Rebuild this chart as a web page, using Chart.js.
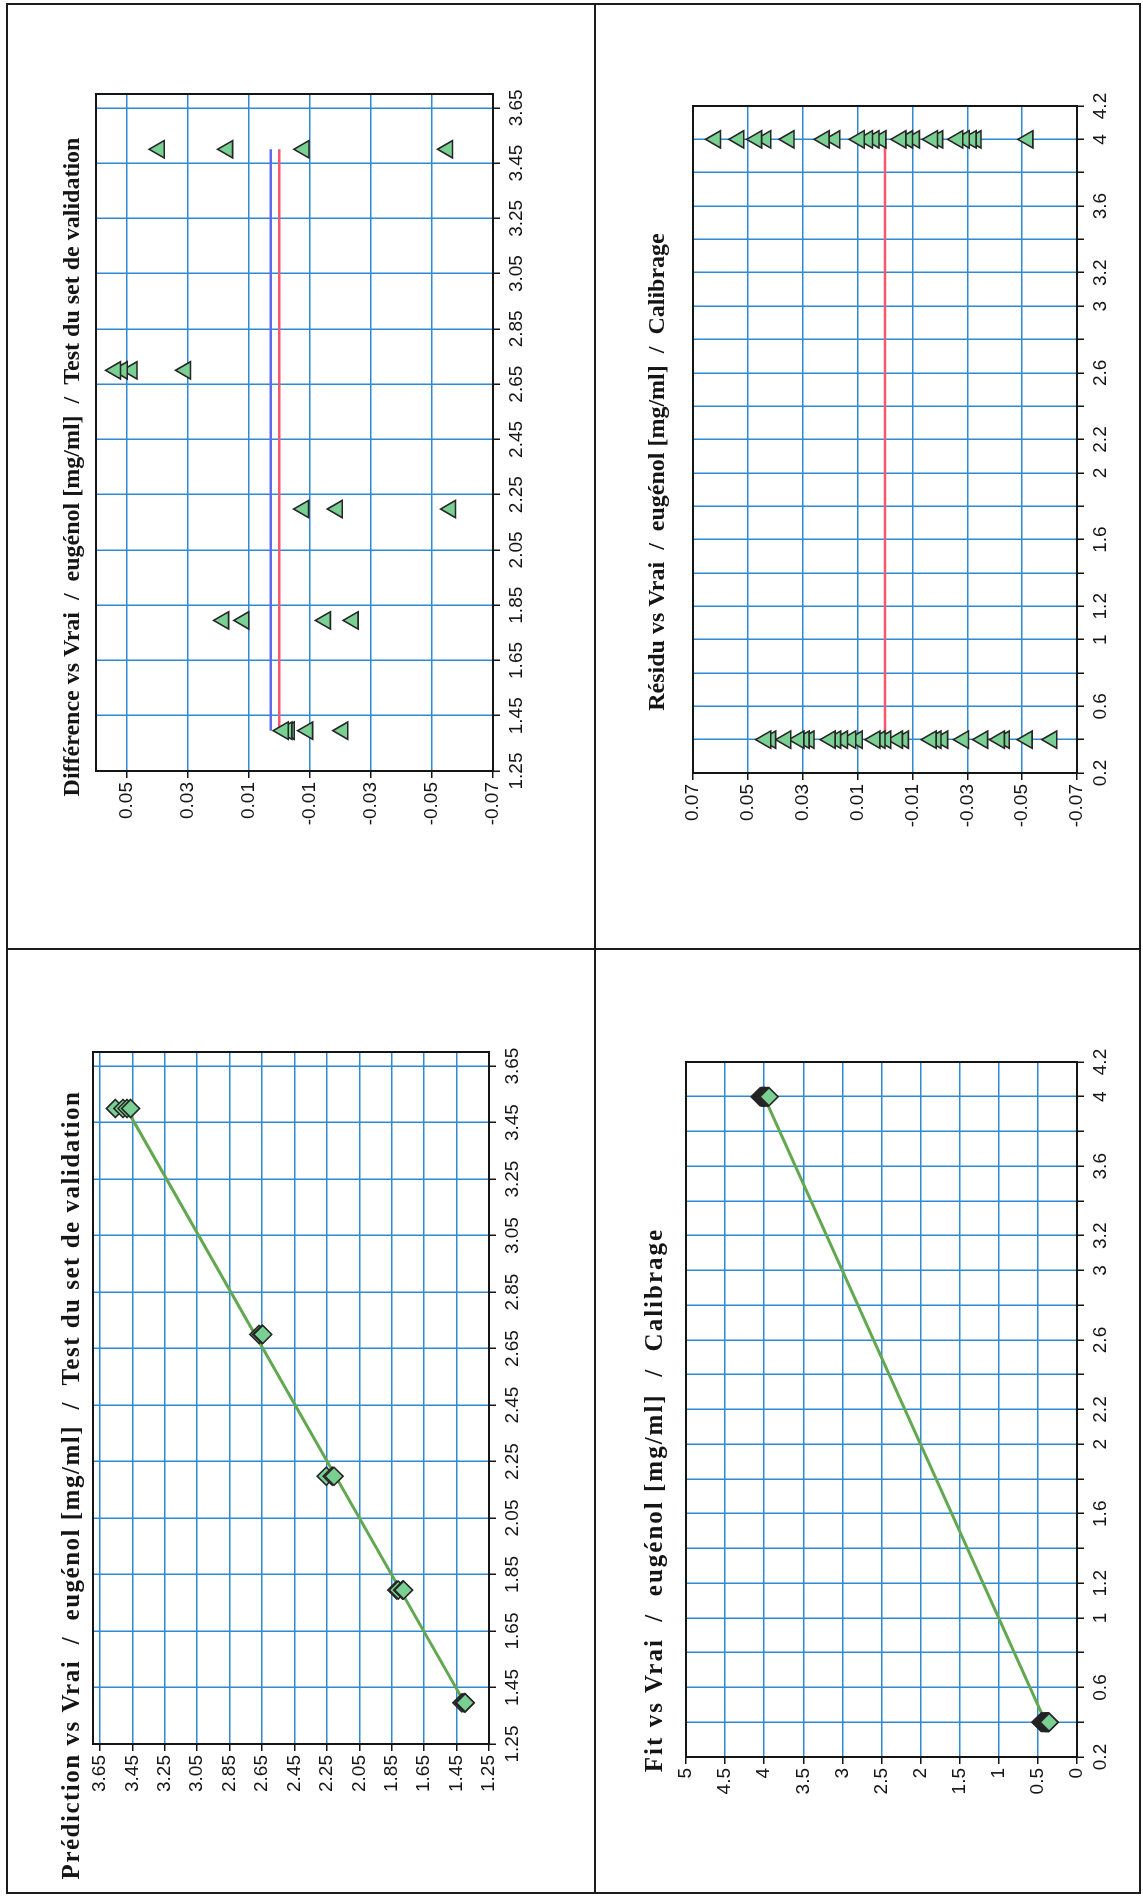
<!DOCTYPE html>
<html>
<head>
<meta charset="utf-8">
<script src="https://cdn.jsdelivr.net/npm/chart.js@4.4.1/dist/chart.umd.min.js"></script>
<style>
  html, body { margin: 0; padding: 0; background: #fff; }
  body { width: 1143px; height: 1896px; position: relative; overflow: hidden; }
  canvas.panel { position: absolute; left: 0; top: 0; transform-origin: 0 0; }
  .rule { position: absolute; background: #1c1c1c; z-index: 2; }
</style>
</head>
<body>
<div class="rule" style="left:6px;top:3px;width:1135px;height:2px"></div>
<div class="rule" style="left:6px;top:1892px;width:1135px;height:2px"></div>
<div class="rule" style="left:6px;top:3px;width:2px;height:1891px"></div>
<div class="rule" style="left:1139px;top:3px;width:2px;height:1891px"></div>
<div class="rule" style="left:594px;top:3px;width:2px;height:1891px"></div>
<div class="rule" style="left:6px;top:948px;width:1135px;height:2px"></div>

<canvas id="cDiff" class="panel"></canvas>
<canvas id="cResid" class="panel"></canvas>
<canvas id="cPred" class="panel"></canvas>
<canvas id="cFit" class="panel"></canvas>

<script>
// ---------- Test du set de validation ----------
// reference (Vrai) values of the validation samples
const valTrue = [3.5, 3.5, 3.5, 3.5,
                 2.70, 2.70, 2.70, 2.70,
                 2.198, 2.198, 2.198,
                 1.795, 1.795, 1.795, 1.795,
                 1.396, 1.396, 1.396, 1.396, 1.396];
// Différence (Vrai - Prédiction)
const valDiff = [-0.0551, -0.0081, 0.0169, 0.0393,
                 0.0307, 0.0482, 0.0514, 0.0536,
                 -0.0561, -0.0190, -0.0080,
                 -0.0242, -0.0151, 0.0116, 0.0182,
                 -0.0208, -0.0093, -0.0033, -0.0025, -0.0013];
// Prédiction
const valPred = [3.555, 3.508, 3.483, 3.461,
                 2.669, 2.652, 2.649, 2.646,
                 2.254, 2.217, 2.206,
                 1.819, 1.810, 1.783, 1.777,
                 1.417, 1.405, 1.399, 1.399, 1.397];
// ends of the reference lines
const valLineX = [1.396, 3.5];
const diffBiasLine = [0.0028, 0.0028];
const diffZeroLine = [0, 0];
const predFitLine = [1.401, 3.487];

// ---------- Calibrage ----------
const calLow = 0.4;
const calHigh = 4.0;
const calResidLow = [-0.0608, -0.0518, -0.0435, -0.0417, -0.0356, -0.0286, -0.0210,
                     -0.0186, -0.0168, -0.0067, -0.0045, -0.0003, 0.0018, 0.0037,
                     0.0101, 0.0125, 0.0155, 0.0180, 0.0200, 0.0277, 0.0295, 0.0314,
                     0.0362, 0.0417, 0.0435];
const calResidHigh = [-0.0521, -0.0332, -0.0314, -0.0289, -0.0265, -0.0192, -0.0173,
                      -0.0107, -0.0082, -0.0058, 0.0015, 0.0040, 0.0064, 0.0094,
                      0.0183, 0.0222, 0.0350, 0.0435, 0.0468, 0.0533, 0.0618];
const calFitLow = [0.461, 0.452, 0.444, 0.442, 0.436, 0.429, 0.421, 0.419, 0.417,
                   0.407, 0.405, 0.400, 0.398, 0.396, 0.390, 0.388, 0.385, 0.382,
                   0.380, 0.372, 0.371, 0.369, 0.364, 0.358, 0.357];
const calFitHigh = [4.052, 4.033, 4.031, 4.029, 4.027, 4.019, 4.017, 4.011, 4.008,
                    4.006, 3.999, 3.996, 3.994, 3.991, 3.982, 3.978, 3.965, 3.957,
                    3.953, 3.947, 3.938];
const calLineX = [0.4, 4.0];
const calFitLine = [0.4, 4.0];
const calZeroLine = [0, 0];

// ---------- axis ticks ----------
const ticksVal = [1.25, 1.45, 1.65, 1.85, 2.05, 2.25, 2.45, 2.65, 2.85, 3.05, 3.25, 3.45, 3.65];
const ticksDiff = [-0.07, -0.05, -0.03, -0.01, 0.01, 0.03, 0.05];
const ticksResid = [-0.07, -0.05, -0.03, -0.01, 0.01, 0.03, 0.05, 0.07];
const ticksCal = [0.2, 0.4, 0.6, 0.8, 1.0, 1.2, 1.4, 1.6, 1.8, 2.0, 2.2, 2.4, 2.6, 2.8,
                  3.0, 3.2, 3.4, 3.6, 3.8, 4.0, 4.2];
const ticksCalShown = [0.2, 0.6, 1, 1.2, 1.6, 2, 2.2, 2.6, 3, 3.2, 3.6, 4, 4.2];
const ticksFit = [0, 0.5, 1, 1.5, 2, 2.5, 3, 3.5, 4, 4.5, 5];

// ---------- styles ----------
const GRID = 'rgb(46,138,212)';
const INK = '#151515';
const MARK_FILL = 'rgb(122,208,146)';
const MARK_EDGE = '#262626';
const RED = 'rgb(246,88,108)';
const BLUE = 'rgb(92,108,236)';
const GREEN = 'rgb(98,168,80)';
const TICK_FONT = { family: '"Liberation Sans", Arial, sans-serif', size: 19 };
const SERIF = '"Liberation Serif", "Times New Roman", serif';

const fix2 = v => v.toFixed(2);
const plain = v => String(v);
const calLabel = v => ticksCalShown.some(t => Math.abs(t - v) < 1e-9) ? String(v) : '';

// black frame around the plotting area
const plotFrame = {
  id: 'plotFrame',
  beforeDatasetsDraw(chart) {
    const a = chart.chartArea, ctx = chart.ctx;
    ctx.save();
    ctx.strokeStyle = INK;
    ctx.lineWidth = 2;
    ctx.strokeRect(a.left, a.top, a.right - a.left, a.bottom - a.top);
    ctx.restore();
  }
};

// chart heading
const panelTitle = {
  id: 'panelTitle',
  afterDraw(chart, args, opts) {
    const ctx = chart.ctx;
    ctx.save();
    ctx.font = opts.font;
    if ('letterSpacing' in ctx) ctx.letterSpacing = opts.spacing || '0px';
    ctx.fillStyle = INK;
    ctx.textAlign = 'center';
    ctx.textBaseline = 'middle';
    ctx.fillText(opts.text, opts.u, opts.v);
    ctx.restore();
  }
};

// The canvas is laid out in the chart's own orientation and turned a quarter
// turn counter-clockwise on the page.
function placePanel(id, box, plot) {
  const W = box.h, H = box.w;
  const cv = document.getElementById(id);
  cv.width = W; cv.height = H;
  cv.style.width = W + 'px'; cv.style.height = H + 'px';
  cv.style.transform = `translate(${box.x}px, ${box.y + W}px) rotate(-90deg)`;
  return {
    W, H,
    left: W - (plot.y1 - box.y),
    right: W - (plot.y0 - box.y),
    top: plot.x0 - box.x,
    bottom: plot.x1 - box.x
  };
}

function axis(a, dir, g) {
  return {
    type: 'linear',
    min: a.min, max: a.max, bounds: 'data',
    afterBuildTicks: s => { s.ticks = a.ticks.map(v => ({ value: v })); },
    afterFit: s => { if (dir === 'x') s.height = g.H - g.bottom; else s.width = g.left; },
    ticks: {
      autoSkip: false, maxRotation: 0, minRotation: 0,
      padding: dir === 'x' ? 5 : 4,
      color: INK, font: TICK_FONT, callback: a.label
    },
    grid: { color: GRID, lineWidth: 1.5, tickColor: INK, tickWidth: 1.5, tickLength: 7, drawTicks: true },
    border: { display: true, color: INK, width: 2 }
  };
}

function pts(xs, ys) { return xs.map((x, i) => ({ x, y: ys[i] })); }
function level(x, ys) { return ys.map(y => ({ x, y })); }

function markers(data, style, radius) {
  return {
    data, showLine: false, order: 0,
    pointStyle: style, pointRadius: radius,
    pointBackgroundColor: MARK_FILL, pointBorderColor: MARK_EDGE, pointBorderWidth: 1.6
  };
}
function line(data, color, width, order) {
  return {
    data, showLine: true, order, pointRadius: 0,
    borderColor: color, borderWidth: width, fill: false, tension: 0
  };
}

function buildChart(id, box, plot, o) {
  const g = placePanel(id, box, plot);
  return new Chart(document.getElementById(id), {
    type: 'scatter',
    data: { datasets: o.datasets },
    options: {
      responsive: false, animation: false, devicePixelRatio: 1,
      layout: { padding: { left: 0, top: g.top, right: g.W - g.right, bottom: 0 } },
      plugins: {
        legend: { display: false },
        tooltip: { enabled: false },
        panelTitle: {
          text: o.title, font: o.titleFont, spacing: o.titleSpacing,
          u: g.W - (o.titleAt[1] - box.y), v: o.titleAt[0] - box.x
        }
      },
      scales: { x: axis(o.x, 'x', g), y: axis(o.y, 'y', g) }
    },
    plugins: [plotFrame, panelTitle]
  });
}

// Différence vs Vrai
buildChart('cDiff', { x: 7, y: 4, w: 588, h: 945 }, { x0: 96, x1: 493, y0: 94, y1: 771 }, {
  title: 'Différence vs Vrai  /  eugénol [mg/ml]  /  Test du set de validation',
  titleFont: 'bold 24px ' + SERIF,
  titleAt: [73, 467],
  x: { min: 1.25, max: 3.70, ticks: ticksVal, label: fix2 },
  y: { min: -0.07, max: 0.06, ticks: ticksDiff, label: fix2 },
  datasets: [
    markers(pts(valTrue, valDiff), 'triangle', 10),
    line(pts(valLineX, diffZeroLine), RED, 2.6, 1),
    line(pts(valLineX, diffBiasLine), BLUE, 2.6, 2)
  ]
});

// Résidu vs Vrai
buildChart('cResid', { x: 595, y: 4, w: 545, h: 945 }, { x0: 693, x1: 1077, y0: 106, y1: 773 }, {
  title: 'Résidu vs Vrai  /  eugénol [mg/ml]  /  Calibrage',
  titleFont: 'bold 24px ' + SERIF,
  titleAt: [658, 472],
  x: { min: 0.2, max: 4.2, ticks: ticksCal, label: calLabel },
  y: { min: -0.07, max: 0.07, ticks: ticksResid, label: fix2 },
  datasets: [
    markers(level(calHigh, calResidHigh).concat(level(calLow, calResidLow)), 'triangle', 10),
    line(pts(calLineX, calZeroLine), RED, 2.6, 1)
  ]
});

// Prédiction vs Vrai
buildChart('cPred', { x: 7, y: 949, w: 588, h: 944 }, { x0: 93, x1: 489, y0: 1052, y1: 1744 }, {
  title: 'Prédiction vs Vrai  /  eugénol [mg/ml]  /  Test du set de validation',
  titleFont: 'bold 25px ' + SERIF,
  titleSpacing: '1.5px',
  titleAt: [73, 1485],
  x: { min: 1.25, max: 3.70, ticks: ticksVal, label: fix2 },
  y: { min: 1.25, max: 3.693, ticks: ticksVal, label: fix2 },
  datasets: [
    markers(pts(valTrue, valPred), 'rectRot', 9),
    line(pts(valLineX, predFitLine), GREEN, 3, 1)
  ]
});

// Fit vs Vrai
buildChart('cFit', { x: 595, y: 949, w: 545, h: 944 }, { x0: 686, x1: 1077, y0: 1062, y1: 1757 }, {
  title: 'Fit vs Vrai  /  eugénol [mg/ml]  /  Calibrage',
  titleFont: 'bold 25px ' + SERIF,
  titleSpacing: '2px',
  titleAt: [656, 1500],
  x: { min: 0.2, max: 4.2, ticks: ticksCal, label: calLabel },
  y: { min: 0, max: 5, ticks: ticksFit, label: plain },
  datasets: [
    markers(level(calHigh, calFitHigh).concat(level(calLow, calFitLow)), 'rectRot', 9),
    line(pts(calLineX, calFitLine), GREEN, 3, 1)
  ]
});
</script>
</body>
</html>
